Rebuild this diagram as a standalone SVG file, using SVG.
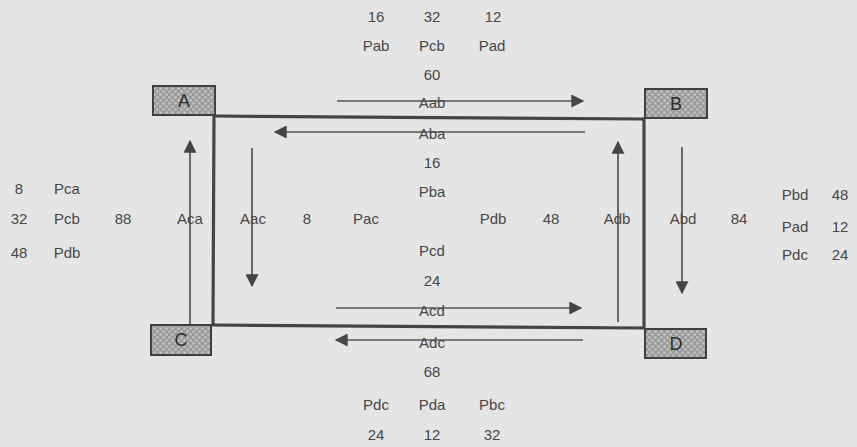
<svg xmlns="http://www.w3.org/2000/svg" width="857" height="447" viewBox="0 0 857 447">
<defs>
<pattern id="stip" width="6" height="6" patternUnits="userSpaceOnUse">
<rect width="6" height="6" fill="#9c9c9c"/>
<circle cx="1.5" cy="1.5" r="1.3" fill="#c8c8c8"/>
<circle cx="4.5" cy="4.5" r="1.3" fill="#c8c8c8"/>
</pattern>
<marker id="ah" viewBox="0 0 10 10" refX="9" refY="5" markerWidth="18" markerHeight="13" markerUnits="userSpaceOnUse" orient="auto">
<path d="M0,0 L10,5 L0,10 Z" fill="#454545"/>
</marker>
</defs>
<style>
text{font-family:"Liberation Sans",Arial,sans-serif;font-size:15px;fill:#474747;text-anchor:middle;}
.node rect{fill:url(#stip);stroke:#404040;stroke-width:2;}
.node text{font-size:18px;fill:#2e2e2e;}
.frame{stroke:#444;stroke-width:3.2;fill:none;}
.arr{stroke:#555;stroke-width:1.7;fill:none;marker-end:url(#ah);}
</style>
<rect width="857" height="447" fill="#e5e5e5"/>
<g id="frame">
<line class="frame" x1="214" y1="116" x2="645" y2="119"/>
<line class="frame" x1="214" y1="116" x2="213" y2="326"/>
<line class="frame" x1="644" y1="119" x2="644" y2="329"/>
<line class="frame" x1="212" y1="325" x2="645" y2="328"/>
</g>
<g id="connectors">
<line class="arr" x1="337" y1="101" x2="583" y2="101"/>
<line class="arr" x1="585" y1="132" x2="275" y2="132"/>
<line class="arr" x1="190" y1="324" x2="190" y2="141"/>
<line class="arr" x1="252" y1="148" x2="252" y2="286"/>
<line class="arr" x1="618" y1="322" x2="618" y2="142"/>
<line class="arr" x1="682" y1="147" x2="682" y2="293"/>
<line class="arr" x1="336" y1="308" x2="581" y2="308"/>
<line class="arr" x1="583" y1="340" x2="336" y2="340"/>
</g>
<g id="A" class="node"><rect x="153" y="86" width="62" height="29"/><text x="184" y="107">A</text></g>
<g id="B" class="node"><rect x="645" y="89" width="62" height="29"/><text x="676" y="110">B</text></g>
<g id="C" class="node"><rect x="151" y="325" width="60" height="30"/><text x="181" y="346">C</text></g>
<g id="D" class="node"><rect x="645" y="329" width="61" height="29"/><text x="676" y="350">D</text></g>
<g id="labels">
<text x="376" y="22">16</text><text x="432" y="22">32</text><text x="493" y="22">12</text>
<text x="376" y="51">Pab</text><text x="432" y="51">Pcb</text><text x="492" y="51">Pad</text>
<text x="432" y="80">60</text>
<text x="432" y="108">Aab</text>
<text x="432" y="139">Aba</text>
<text x="432" y="168">16</text>
<text x="432" y="197">Pba</text>
<text x="432" y="256">Pcd</text>
<text x="432" y="286">24</text>
<text x="432" y="316">Acd</text>
<text x="432" y="348">Adc</text>
<text x="432" y="377">68</text>
<text x="376" y="410">Pdc</text><text x="432" y="410">Pda</text><text x="492" y="410">Pbc</text>
<text x="376" y="440">24</text><text x="432" y="440">12</text><text x="492" y="440">32</text>
<text x="19" y="194">8</text><text x="67" y="194">Pca</text>
<text x="19" y="224">32</text><text x="67" y="224">Pcb</text>
<text x="19" y="258">48</text><text x="67" y="258">Pdb</text>
<text x="123" y="224">88</text>
<text x="190" y="224">Aca</text>
<text x="253" y="224">Aac</text>
<text x="307" y="224">8</text>
<text x="366" y="224">Pac</text>
<text x="493" y="224">Pdb</text>
<text x="551" y="224">48</text>
<text x="617" y="224">Adb</text>
<text x="683" y="224">Abd</text>
<text x="739" y="224">84</text>
<text x="795" y="200">Pbd</text><text x="840" y="200">48</text>
<text x="795" y="232">Pad</text><text x="840" y="232">12</text>
<text x="795" y="260">Pdc</text><text x="840" y="260">24</text>
</g>
</svg>
